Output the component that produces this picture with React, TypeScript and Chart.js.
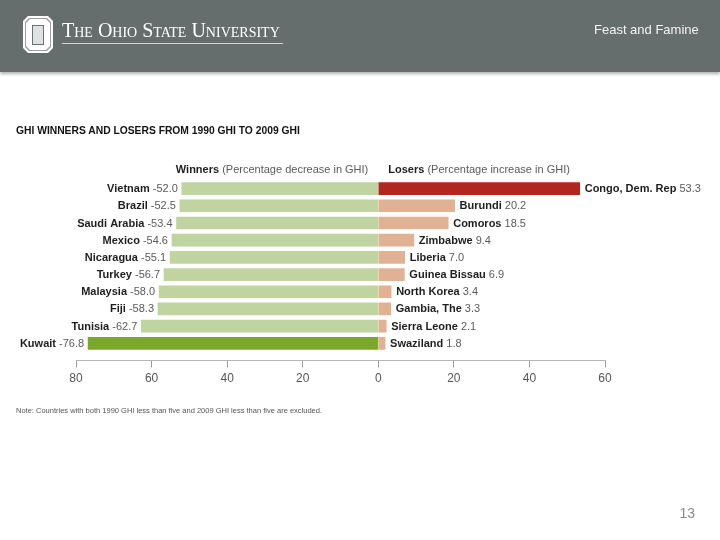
import React, { useEffect, useRef } from "react";
import { Chart, registerables } from "chart.js";

Chart.register(...registerables);

// ---- data ----
const winnerNames = ["Vietnam", "Brazil", "Saudi Arabia", "Mexico", "Nicaragua", "Turkey", "Malaysia", "Fiji", "Tunisia", "Kuwait"];
const winnerValues = [-52.0, -52.5, -53.4, -54.6, -55.1, -56.7, -58.0, -58.3, -62.7, -76.8];
const loserNames = ["Congo, Dem. Rep", "Burundi", "Comoros", "Zimbabwe", "Liberia", "Guinea Bissau", "North Korea", "Gambia, The", "Sierra Leone", "Swaziland"];
const loserValues = [53.3, 20.2, 18.5, 9.4, 7.0, 6.9, 3.4, 3.3, 2.1, 1.8];
const xMin = -80;
const xMax = 60;
const xStep = 20;

const SANS = '"Liberation Sans", Arial, sans-serif';

const labelPlugin = {
  id: "barLabels",
  afterDatasetsDraw(chart: any) {
    const ctx = chart.ctx;
    const xs = chart.scales.x;
    const zero = xs.getPixelForValue(0);
    const bold = `bold 11px ${SANS}`;
    const reg = `11px ${SANS}`;
    ctx.save();
    ctx.textBaseline = "middle";

    const wMeta = chart.getDatasetMeta(0);
    wMeta.data.forEach((bar: any, i: number) => {
      const val = winnerValues[i].toFixed(1);
      ctx.font = reg;
      const vw = ctx.measureText(val).width;
      const sw = ctx.measureText(" ").width;
      const x = bar.x - 4;
      ctx.textAlign = "right";
      ctx.fillStyle = "#5a5a5a";
      ctx.fillText(val, x, bar.y + 0.5);
      ctx.font = bold;
      ctx.fillStyle = "#1e1e1e";
      ctx.fillText(winnerNames[i], x - vw - sw, bar.y + 0.5);
    });

    const lMeta = chart.getDatasetMeta(1);
    lMeta.data.forEach((bar: any, i: number) => {
      const val = loserValues[i].toFixed(1);
      const x = bar.x + 5;
      ctx.textAlign = "left";
      ctx.font = bold;
      const nw = ctx.measureText(loserNames[i]).width;
      ctx.fillStyle = "#1e1e1e";
      ctx.fillText(loserNames[i], x, bar.y + 0.5);
      ctx.font = reg;
      const sw = ctx.measureText(" ").width;
      ctx.fillStyle = "#5a5a5a";
      ctx.fillText(val, x + nw + sw, bar.y + 0.5);
    });

    // column headers
    const hy = chart.chartArea.top - 10;
    ctx.font = reg;
    const restW = ctx.measureText(" (Percentage decrease in GHI)").width;
    ctx.textAlign = "right";
    ctx.fillStyle = "#5a5a5a";
    ctx.fillText(" (Percentage decrease in GHI)", zero - 10, hy);
    ctx.font = bold;
    ctx.fillStyle = "#1e1e1e";
    ctx.fillText("Winners", zero - 10 - restW, hy);

    ctx.textAlign = "left";
    ctx.font = bold;
    const lw = ctx.measureText("Losers").width;
    ctx.fillText("Losers", zero + 10, hy);
    ctx.font = reg;
    ctx.fillStyle = "#5a5a5a";
    ctx.fillText(" (Percentage increase in GHI)", zero + 10 + lw, hy);
    ctx.restore();
  },
};

function maxAbsIndex(arr: number[]) {
  let best = 0;
  arr.forEach((v, i) => {
    if (Math.abs(v) > Math.abs(arr[best])) best = i;
  });
  return best;
}

function GhiChart() {
  const ref = useRef<HTMLCanvasElement | null>(null);
  useEffect(() => {
    if (!ref.current) return;
    const wMax = maxAbsIndex(winnerValues);
    const lMax = maxAbsIndex(loserValues);
    const chart = new Chart(ref.current, {
      type: "bar",
      data: {
        datasets: [
          {
            label: "Winners",
            data: winnerValues.map((v, i) => ({ x: v, y: i })),
            backgroundColor: (c: any) => (c.dataIndex === wMax ? "#7aa82c" : "#bfd4a1"),
            barThickness: 12,
            stack: "s",
          },
          {
            label: "Losers",
            data: loserValues.map((v, i) => ({ x: v, y: i })),
            backgroundColor: (c: any) => (c.dataIndex === lMax ? "#b3261e" : "#e0b293"),
            barThickness: 12,
            stack: "s",
          },
        ] as any,
      },
      options: {
        indexAxis: "y",
        responsive: false,
        animation: false,
        devicePixelRatio: 1,
        layout: { padding: { left: 76, right: 115, top: 180, bottom: 149.5 } },
        plugins: { legend: { display: false }, tooltip: { enabled: false } },
        scales: {
          x: {
            type: "linear",
            min: xMin,
            max: xMax,
            stacked: false,
            afterFit: (s: any) => {
              s.height = 30;
            },
            ticks: {
              stepSize: xStep,
              color: "#555",
              font: { family: SANS, size: 12 },
              padding: 4,
              callback: (v: any) => String(Math.abs(Number(v))),
            },
            grid: { drawOnChartArea: false, drawTicks: true, tickLength: 7, color: "#9a9a9a" },
            border: { display: true, color: "#b5b5b5" },
          },
          y: {
            type: "linear",
            reverse: true,
            bounds: "data",
            offset: false,
            grid: { offset: false },
            min: -0.5,
            max: 10,
            stacked: true,
            display: false,
            ticks: { stepSize: 1 },
          },
        },
      } as any,
      plugins: [labelPlugin],
    });
    return () => chart.destroy();
  }, []);
  return (
    <canvas
      ref={ref}
      width={720}
      height={540}
      style={{ position: "absolute", left: 0, top: 0, width: 720, height: 540 }}
    />
  );
}

export default function App() {
  return (
    <div
      style={{
        position: "absolute",
        left: 0,
        top: 0,
        width: 720,
        height: 540,
        background: "#fff",
        overflow: "hidden",
        fontFamily: SANS,
      }}
    >
      <GhiChart />
      {/* header bar */}
      <div
        style={{
          position: "absolute",
          left: 0,
          top: 0,
          width: 720,
          height: 72,
          background: "#656d6d",
          boxShadow: "0 2px 3px rgba(0,0,0,0.3)",
        }}
      >
        {/* block O logo */}
        <div
          style={{
            position: "absolute",
            left: 23,
            top: 16,
            width: 30,
            height: 37,
            background: "#fff",
            clipPath: "polygon(5px 0, 25px 0, 30px 5px, 30px 32px, 25px 37px, 5px 37px, 0 32px, 0 5px)",
          }}
        />
        <div
          style={{
            position: "absolute",
            left: 25,
            top: 18,
            width: 26,
            height: 33,
            background: "#9aa0a0",
            clipPath: "polygon(4px 0, 22px 0, 26px 4px, 26px 29px, 22px 33px, 4px 33px, 0 29px, 0 4px)",
          }}
        />
        <div
          style={{
            position: "absolute",
            left: 26,
            top: 19,
            width: 24,
            height: 31,
            background: "#fff",
            clipPath: "polygon(4px 0, 20px 0, 24px 4px, 24px 27px, 20px 31px, 4px 31px, 0 27px, 0 4px)",
          }}
        />
        <div
          style={{
            position: "absolute",
            left: 32,
            top: 25,
            width: 12,
            height: 20,
            background: "#dfe2e2",
            border: "1.5px solid #6a7272",
            boxSizing: "border-box",
          }}
        />
        <div
          style={{
            position: "absolute",
            left: 62,
            top: 20,
            fontFamily: '"Liberation Serif", "Times New Roman", serif',
            fontVariant: "small-caps",
            fontSize: 20,
            lineHeight: "20px",
            color: "#fff",
            whiteSpace: "nowrap",
          }}
        >
          The Ohio State University
        </div>
        <div style={{ position: "absolute", left: 62, top: 43, width: 221, height: 1, background: "#d0d4d4" }} />
        <div
          style={{
            position: "absolute",
            left: 594,
            top: 22,
            fontSize: 13,
            lineHeight: "16px",
            color: "#f4f4f4",
            whiteSpace: "nowrap",
          }}
        >
          Feast and Famine
        </div>
      </div>
      {/* chart title */}
      <div
        style={{
          position: "absolute",
          left: 16,
          top: 125,
          fontSize: 10.3,
          lineHeight: "12px",
          fontWeight: "bold",
          color: "#111",
          whiteSpace: "nowrap",
        }}
      >
        GHI WINNERS AND LOSERS FROM 1990 GHI TO 2009 GHI
      </div>
      {/* note */}
      <div
        style={{
          position: "absolute",
          left: 16,
          top: 407,
          fontSize: 7.5,
          lineHeight: "8px",
          color: "#555",
          whiteSpace: "nowrap",
        }}
      >
        Note: Countries with both 1990 GHI less than five and 2009 GHI less than five are excluded.
      </div>
      {/* page number */}
      <div
        style={{
          position: "absolute",
          left: 0,
          width: 695,
          top: 505,
          fontSize: 14,
          lineHeight: "16px",
          textAlign: "right",
          color: "#8a8a8a",
        }}
      >
        13
      </div>
    </div>
  );
}
